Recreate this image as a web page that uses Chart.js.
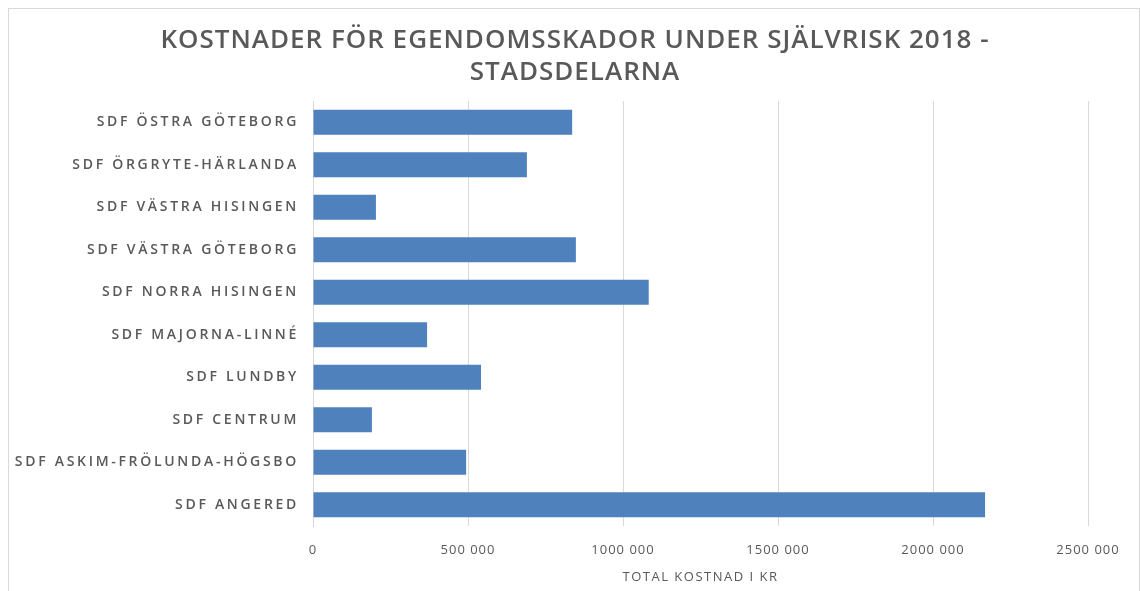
<!DOCTYPE html>
<html>
<head>
<meta charset="utf-8">
<script src="https://cdn.jsdelivr.net/npm/chart.js@4.4.1/dist/chart.umd.min.js"></script>
<style>
  html, body { margin: 0; padding: 0; background: #ffffff; }
  #wrap { position: absolute; left: 0; top: 0; width: 1140px; height: 591px; }
  #frame { position: absolute; left: 8px; top: 8px; width: 1130px; height: 590px;
           border-left: 1px solid #d9d9d9; border-top: 1px solid #d9d9d9; border-right: 1px solid #d9d9d9; }
  canvas { position: absolute; left: 0; top: 0; }
</style>
</head>
<body>
<div id="wrap"><div id="frame"></div><canvas id="c" width="1140" height="591"></canvas></div>
<script>
const chartTitle = ['KOSTNADER FÖR EGENDOMSSKADOR UNDER SJÄLVRISK 2018 -', 'STADSDELARNA'];
const categories = [
  'SDF ÖSTRA GÖTEBORG',
  'SDF ÖRGRYTE-HÄRLANDA',
  'SDF VÄSTRA HISINGEN',
  'SDF VÄSTRA GÖTEBORG',
  'SDF NORRA HISINGEN',
  'SDF MAJORNA-LINNÉ',
  'SDF LUNDBY',
  'SDF CENTRUM',
  'SDF ASKIM-FRÖLUNDA-HÖGSBO',
  'SDF ANGERED'
];
const costs = [836000, 690000, 203000, 848000, 1083000, 368000, 542000, 190000, 494000, 2168000];
const xAxisTitle = 'TOTAL KOSTNAD I KR';
const xMax = 2500000;
const xStep = 500000;

class SpacedCategoryScale extends Chart.CategoryScale {
  drawLabels(area) {
    const ctx = this.ctx;
    ctx.save();
    ctx.letterSpacing = '2.7px';
    super.drawLabels(area);
    ctx.restore();
  }
}
SpacedCategoryScale.id = 'spacedCategory';
SpacedCategoryScale.defaults = Chart.CategoryScale.defaults;

class SpacedLinearScale extends Chart.LinearScale {
  drawLabels(area) {
    const ctx = this.ctx;
    ctx.save();
    ctx.letterSpacing = '1px';
    super.drawLabels(area);
    ctx.restore();
  }
  drawTitle() {
    const ctx = this.ctx;
    ctx.save();
    ctx.letterSpacing = '1.5px';
    super.drawTitle();
    ctx.restore();
  }
}
SpacedLinearScale.id = 'spacedLinear';
SpacedLinearScale.defaults = Chart.LinearScale.defaults;
Chart.register(SpacedCategoryScale, SpacedLinearScale);

const titleSpacing = {
  id: 'titleSpacing',
  beforeDraw(chart) { chart.ctx.letterSpacing = '1px'; },
  afterDraw(chart) { chart.ctx.letterSpacing = '0px'; }
};

function fmt(v) {
  if (v === 0) return '0';
  const th = Math.floor(v / 1000);
  const r = String(v % 1000).padStart(3, '0');
  return th + ' ' + r;
}

const grey = '#595959';
new Chart(document.getElementById('c'), {
  type: 'bar',
  data: {
    labels: categories,
    datasets: [{
      data: costs,
      backgroundColor: '#4f81bd',
      borderWidth: 0,
      categoryPercentage: 1,
      barPercentage: 0.59
    }]
  },
  plugins: [titleSpacing],
  options: {
    indexAxis: 'y',
    responsive: false,
    animation: false,
    layout: { padding: { left: 10, right: 0, top: 0, bottom: 0 } },
    plugins: {
      legend: { display: false },
      tooltip: { enabled: false },
      title: {
        display: true,
        text: chartTitle,
        color: grey,
        font: { family: '"Open Sans", sans-serif', size: 26, weight: '600', lineHeight: 32 / 26 },
        padding: { top: 25, bottom: 12 }
      }
    },
    scales: {
      x: {
        type: 'spacedLinear',
        min: 0,
        max: xMax,
        ticks: {
          stepSize: xStep,
          color: grey,
          padding: 16,
          maxRotation: 0,
          font: { family: '"Open Sans", sans-serif', size: 13 },
          callback: (v) => fmt(v)
        },
        grid: { color: '#d9d9d9', drawTicks: false, lineWidth: 1 },
        border: { display: false },
        title: {
          display: true,
          text: xAxisTitle,
          color: grey,
          font: { family: '"Open Sans", sans-serif', size: 13 },
          padding: { top: 0, bottom: 6 }
        },
        afterFit: (s) => { s.height = 65; }
      },
      y: {
        type: 'spacedCategory',
        ticks: {
          color: grey,
          padding: 14,
          font: { family: '"Open Sans", sans-serif', size: 14, weight: '600' }
        },
        grid: { display: false, drawTicks: false },
        border: { display: true, color: '#d9d9d9', width: 1 },
        afterFit: (s) => { s.width = 303; }
      },
      yRight: {
        type: 'linear',
        position: 'right',
        display: true,
        ticks: { display: false },
        grid: { display: false, drawTicks: false },
        border: { display: false },
        afterFit: (s) => { s.width = 52; }
      }
    }
  }
});
</script>
</body>
</html>
